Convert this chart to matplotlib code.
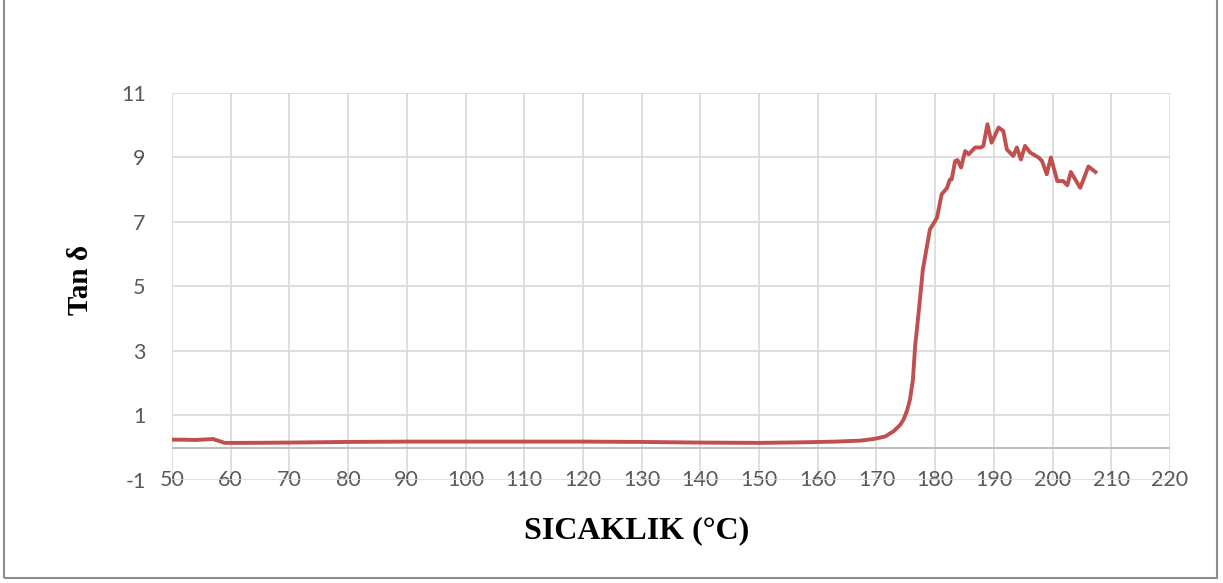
import matplotlib
matplotlib.use('Agg')
import matplotlib.pyplot as plt
from matplotlib.patches import Rectangle

plt.rcParams['axes.unicode_minus'] = False

# sıcaklık (°C) ve tan δ ölçümleri
sicaklik = [50, 52, 54, 56, 57, 58, 59, 62, 70, 80, 90, 100, 110, 120, 130,
            140, 150, 158, 163, 167.2, 169.5, 171.5, 172.9, 174.0, 174.6,
            175.2, 175.7, 176.2, 176.6, 176.9, 177.4, 177.9, 178.3, 179.1,
            179.7, 180.3, 181.1, 182.0, 182.5, 182.8, 183.4, 183.8, 184.4,
            185.1, 185.7, 186.8, 187.8, 188.2, 188.9, 189.6, 190.8, 191.6,
            192.2, 193.3, 193.9, 194.6, 195.3, 196.2, 197.6, 198.2, 199.0,
            199.7, 200.8, 201.8, 202.5, 203.1, 204.7, 206.1, 207.3]
tan_delta = [0.25, 0.25, 0.24, 0.26, 0.27, 0.21, 0.15, 0.15, 0.16, 0.18, 0.19,
             0.19, 0.19, 0.19, 0.18, 0.16, 0.15, 0.17, 0.19, 0.22, 0.27,
             0.35, 0.51, 0.7, 0.87, 1.15, 1.49, 2.1, 3.2, 3.7, 4.6, 5.53,
             5.94, 6.77, 6.95, 7.13, 7.86, 8.05, 8.32, 8.32, 8.89, 8.92, 8.69,
             9.2, 9.1, 9.31, 9.31, 9.36, 10.03, 9.46, 9.93, 9.82, 9.25, 9.05,
             9.31, 8.94, 9.36, 9.15, 9.0, 8.89, 8.48, 9.0, 8.27, 8.27, 8.14,
             8.55, 8.06, 8.72, 8.55]

x_ticks = list(range(50, 221, 10))
y_ticks = [-1, 1, 3, 5, 7, 9, 11]

fig = plt.figure(figsize=(12.23, 5.83), dpi=100)
ax = fig.add_axes([0.1406, 0.1767, 0.8161, 0.6638])

ax.plot(sicaklik, tan_delta, color='#C0504D', linewidth=2.8, zorder=3)
ax.axhline(0, color='#BFBFBF', linewidth=1.5, zorder=2)

ax.set_xlim(50, 220)
ax.set_ylim(-1, 11)
ax.set_xticks(x_ticks)
ax.set_yticks(y_ticks)
ax.grid(True, color='#D9D9D9', linewidth=1.2)
ax.set_axisbelow(True)
for s in ax.spines.values():
    s.set_visible(False)

ax.tick_params(axis='both', length=0, labelsize=15.5, labelcolor='#595959')
ax.tick_params(axis='x', pad=0)
ax.tick_params(axis='y', pad=19)
for lbl in ax.get_xticklabels():
    lbl.set_fontfamily('Lato')
    lbl.set_verticalalignment('center')
for lbl in ax.get_yticklabels():
    lbl.set_fontfamily('Lato')

ax.set_xlabel('SICAKLIK (°C)', fontfamily='Liberation Serif', fontweight='bold', fontsize=23)
ax.set_ylabel('Tan δ', fontfamily='Liberation Serif', fontweight='bold', fontsize=21)
ax.xaxis.set_label_coords(0.466, -0.093)
ax.yaxis.set_label_coords(-0.078, 0.517)

# çerçeve
fig.patches.append(Rectangle((0.0035, 0.0085), 0.9916, 1.0, transform=fig.transFigure,
                             fill=False, edgecolor='#8C8C8C', linewidth=1.5))

fig.savefig('out.png', dpi=100)
